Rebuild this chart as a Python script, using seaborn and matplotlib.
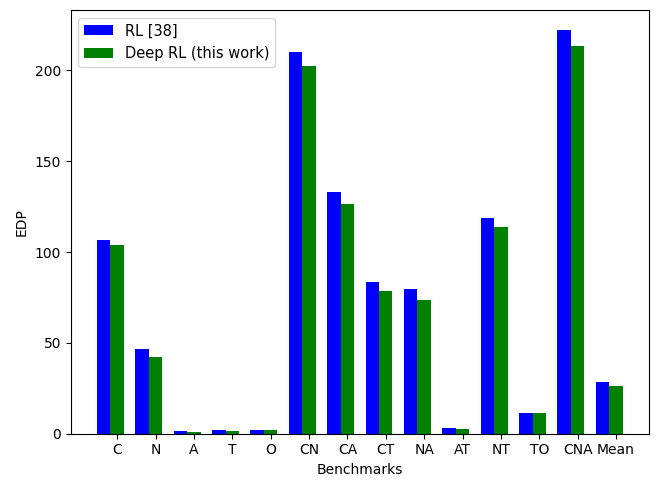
import numpy as np
import pandas as pd
import matplotlib
matplotlib.use("Agg")
import matplotlib.pyplot as plt
import seaborn as sns

categories = ["C", "N", "A", "T", "O", "CN", "CA", "CT", "NA", "AT", "NT", "TO", "CNA", "Mean"]
rl_values = [106.7, 46.7, 1.5, 2.0, 2.2, 209.9, 133.0, 83.5, 79.6, 3.3, 118.7, 11.6, 222.0, 28.7]
deep_rl_values = [103.9, 42.2, 1.0, 1.5, 2.1, 202.2, 126.4, 78.5, 73.6, 2.7, 113.8, 11.6, 213.2, 26.4]
series_names = ["RL [38]", "Deep RL (this work)"]

df = pd.DataFrame({
    "Benchmarks": categories * 2,
    "EDP": rl_values + deep_rl_values,
    "Method": [series_names[0]] * len(categories) + [series_names[1]] * len(categories),
})

fig = plt.figure(figsize=(6.57, 4.8), dpi=100)
ax = fig.add_axes([70.7 / 657, 1 - 433.7 / 480, (649 - 70.7) / 657, (433.7 - 10.3) / 480])

sns.barplot(data=df, x="Benchmarks", y="EDP", hue="Method", order=categories,
            hue_order=series_names, palette=["blue", "green"], saturation=1,
            width=0.7, linewidth=0, errorbar=None, ax=ax)

ax.set_xlim(-1.035, 14.035)
ax.set_ylim(0, 222.0 * 1.05)
ax.set_xticks(np.arange(len(categories)) + 0.175)
ax.set_xticklabels(categories)
ax.set_xlabel("Benchmarks")
ax.set_ylabel("EDP")
ax.legend(loc="upper left", title=None, fontsize=10.5)

fig.savefig("out.png", dpi=100)
